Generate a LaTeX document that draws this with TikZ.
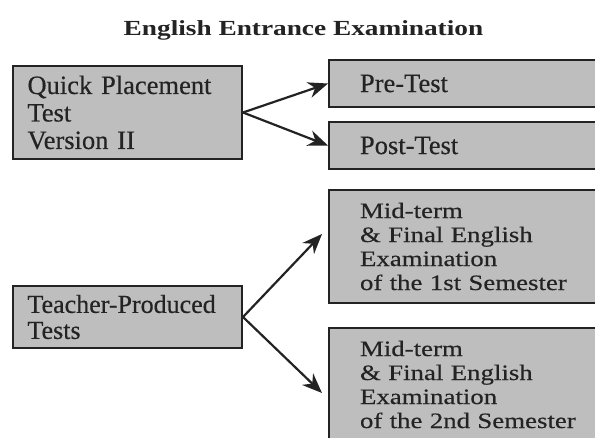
\documentclass[tikz,border=0pt]{standalone}
\usepackage{fontspec}
\setmainfont{Liberation Serif}[FakeBold=0.4]
\newfontfamily\plainserif{Liberation Serif}[FakeBold=0.4]
\newfontfamily\wideserif{Liberation Serif}[FakeStretch=1.22,FakeBold=0.4]
\newfontfamily\titleserif{Liberation Serif}[FakeStretch=1.27]
\usetikzlibrary{arrows.meta}
\definecolor{boxgray}{RGB}{190,190,190}
\definecolor{edgegray}{RGB}{35,35,35}
\definecolor{inkgray}{RGB}{35,35,35}
\tikzset{
  testbox/.style={draw=edgegray, line width=2pt, fill=boxgray, text=inkgray,
    anchor=north west, align=left, inner ysep=0pt},
  leftbox/.style={testbox, minimum width=229pt, text width=200pt, inner xsep=14pt},
  rightbox/.style={testbox, minimum width=280pt, text width=230pt, inner xsep=31pt},
  bigtext/.style={font=\plainserif\fontsize{26.5}{27.5}\selectfont},
  widetext/.style={font=\wideserif\fontsize{22}{24}\selectfont},
  linkarrow/.style={draw=edgegray, line width=2.2pt, -{Stealth[length=20pt,width=16pt]}}
}

\begin{document}
\begin{tikzpicture}[x=1pt,y=-1pt]
			%%%%% START %%%%%
			
			\useasboundingbox (0, 0) rectangle (595, 437);
			\clip (0, 0) rectangle (595, 437);
			
			\node[text=inkgray, anchor=base, font=\titleserif\bfseries\fontsize{21.5}{24}\selectfont] (title) at (303.5, 35) {English Entrance Examination};
			
			\node[leftbox, bigtext, minimum height=93pt] (qpt) at (12, 65) {Quick Placement\\ Test\\ Version II};
			\node[rightbox, bigtext, minimum height=47pt] (pre) at (328, 59) {Pre-Test};
			\node[rightbox, bigtext, minimum height=47pt] (post) at (328, 121) {Post-Test};
			
			\node[leftbox, font=\plainserif\fontsize{26}{26}\selectfont, minimum height=62pt] (teacher) at (12, 285) {Teacher-Produced\\ Tests};
			\node[rightbox, widetext, minimum height=113pt] (midone) at (328, 189) {Mid-term\\ \& Final English\\ Examination\\ of the 1st Semester};
			\node[rightbox, widetext, minimum height=113pt] (midtwo) at (328, 327) {Mid-term\\ \& Final English\\ Examination\\ of the 2nd Semester};
			
			\coordinate (tipone) at (322, 234);
			\coordinate (tiptwo) at (322, 393);
			
			\draw[linkarrow] (qpt.east) -- (pre.west);
			\draw[linkarrow] (qpt.east) -- (post.west);
			\draw[linkarrow] (teacher.east) -- (tipone);
			\draw[linkarrow] (teacher.east) -- (tiptwo);
			
			%%%%% END %%%%%
\end{tikzpicture}
\end{document}
